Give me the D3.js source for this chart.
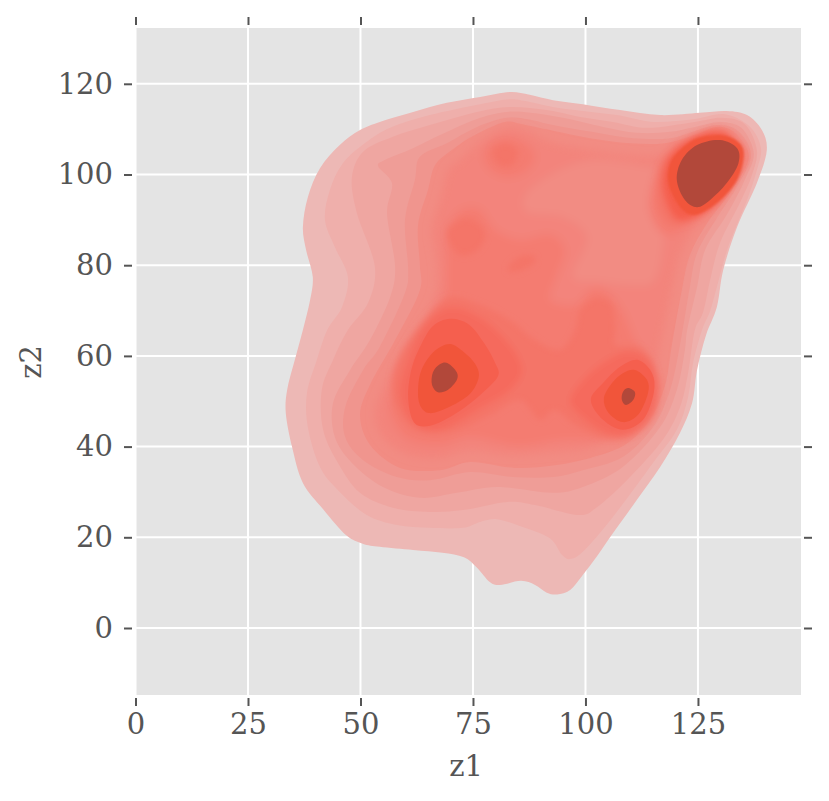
<!DOCTYPE html>
<html>
<head>
<meta charset="utf-8">
<style>
html,body{margin:0;padding:0;background:#fff}
svg{display:block}
text{font-family:"DejaVu Serif",serif;fill:#555}
</style>
<script src="https://cdn.jsdelivr.net/npm/d3@7"></script>
</head>
<body>
<svg id="chart" width="829" height="801"></svg>
<script>
const xTicks=[0,25,50,75,100,125];
const yTicks=[0,20,40,60,80,100,120];
const xLabel="z1", yLabel="z2";

// Density contours, [z1,z2]
const level0=[[83.2,118.2],[76.6,117.1],[69.2,115.8],[61.7,113.8],[54.3,111.6],[49.9,109.8],[45.4,106.5],[41.0,101.4],[38.3,95.0],[37.2,88.4],[37.9,83.4],[39.4,77.4],[38.8,72.3],[37.2,65.7],[35.4,59.1],[33.7,52.5],[33.4,47.4],[34.8,39.9],[37.2,32.0],[41.7,26.2],[46.9,20.4],[50.5,18.6],[54.3,17.9],[61.7,17.2],[68.2,16.6],[73.0,15.6],[75.9,13.3],[78.8,10.1],[81.0,9.5],[85.7,10.4],[88.8,9.5],[91.4,7.8],[93.7,7.4],[96.6,8.4],[99.4,11.7],[102.6,15.9],[106.1,20.9],[111.4,28.2],[116.6,35.5],[121.0,43.0],[123.7,49.6],[124.8,56.9],[126.8,64.6],[129.2,70.8],[130.6,78.9],[133.7,88.4],[138.1,98.1],[140.3,105.4],[139.2,109.8],[135.9,113.1],[131.4,114.0],[125.4,113.6],[116.6,113.1],[107.7,114.2],[99.4,115.5],[92.8,116.4],[87.6,117.6]];
const level1=[[83.2,116.6],[76.6,115.5],[65.4,113.1],[56.6,110.3],[51.4,107.2],[46.1,102.5],[43.2,96.6],[42.1,90.0],[44.3,84.0],[47.2,77.4],[45.9,70.8],[42.6,65.7],[40.3,59.1],[38.1,51.8],[38.3,44.3],[41.0,35.5],[45.0,30.4],[51.4,24.9],[58.1,22.7],[65.4,22.1],[72.8,22.1],[76.6,23.4],[80.3,24.0],[85.4,22.5],[92.1,19.8],[94.8,16.1],[96.6,15.2],[99.4,16.8],[106.1,24.5],[115.0,36.4],[120.3,43.7],[122.8,50.9],[123.9,58.4],[125.9,65.7],[127.7,69.9],[129.2,75.2],[131.7,84.0],[135.9,94.4],[138.1,101.0],[139.0,105.8],[136.6,110.5],[131.0,113.3],[123.9,112.2],[115.0,111.6],[107.0,113.1],[99.4,114.0],[92.8,114.9],[86.6,116.2]];
const level2=[[83.2,114.9],[75.9,113.8],[65.4,110.9],[57.2,108.3],[50.6,105.0],[48.1,99.4],[49.2,91.5],[53.2,79.6],[51.7,71.7],[47.2,65.7],[43.9,59.1],[41.4,52.5],[41.7,43.7],[45.0,36.4],[49.9,29.8],[57.2,26.5],[65.4,25.6],[72.8,26.0],[82.6,27.8],[88.8,27.1],[98.8,24.9],[102.6,26.7],[109.2,32.6],[117.2,41.5],[121.0,48.7],[122.8,56.2],[124.3,65.7],[126.1,69.5],[127.7,76.7],[129.9,84.9],[134.3,93.7],[137.0,99.9],[138.1,105.4],[135.4,111.1],[130.3,112.5],[124.3,111.6],[113.7,110.3],[106.1,111.6],[98.8,112.7],[91.4,114.2]];
const level3=[[82.6,113.8],[76.6,112.5],[67.7,108.7],[61.7,105.8],[55.4,103.2],[53.9,101.9],[57.0,98.1],[55.9,91.5],[57.7,79.6],[56.6,73.0],[52.1,63.5],[47.7,56.9],[43.9,49.6],[44.3,42.1],[48.1,36.4],[55.0,31.1],[63.2,28.7],[71.4,29.8],[80.3,31.1],[92.8,29.8],[99.4,31.1],[108.3,35.5],[116.6,44.3],[120.3,52.5],[122.1,61.3],[122.6,65.7],[124.8,75.2],[126.6,83.4],[131.4,91.1],[135.4,98.8],[137.4,104.7],[134.6,110.3],[129.9,111.6],[124.3,110.5],[118.8,109.4],[111.4,109.2],[103.9,110.5],[95.0,112.5],[87.7,113.6]];
const level4=[[82.6,112.5],[75.9,110.5],[69.2,106.9],[63.2,103.9],[62.1,98.8],[59.9,90.0],[60.6,78.9],[59.9,73.9],[54.3,62.0],[50.6,56.9],[46.6,48.7],[46.6,42.1],[50.6,37.0],[58.1,33.3],[65.4,32.6],[74.4,34.4],[83.9,33.3],[92.8,33.3],[99.4,34.8],[108.3,37.7],[115.0,44.3],[118.8,52.5],[121.0,62.4],[123.2,75.2],[124.8,82.7],[129.2,90.4],[133.9,97.7],[136.8,104.3],[133.9,109.6],[129.4,110.9],[124.3,109.6],[118.8,108.0],[110.6,108.0],[102.6,109.2],[92.8,110.9],[87.2,112.2]];
const level5=[[82.1,111.6],[75.4,108.7],[70.3,105.4],[66.6,102.1],[65.0,96.6],[62.8,88.9],[63.2,80.0],[63.2,74.5],[57.7,63.5],[52.1,53.6],[49.9,47.0],[52.1,40.4],[58.8,35.3],[67.7,34.8],[74.4,36.6],[84.3,35.3],[93.2,35.9],[101.0,37.5],[108.8,40.4],[114.3,45.9],[117.7,53.6],[119.2,62.4],[121.4,74.5],[123.2,82.2],[127.2,89.5],[132.6,96.6],[136.3,103.9],[133.2,109.2],[129.2,110.5],[124.3,108.7],[117.7,106.9],[109.9,106.9],[101.0,108.0],[92.1,109.8],[85.9,111.1]];
const level6=[[82.1,110.3],[76.6,107.2],[72.1,103.2],[69.5,101.0],[67.7,94.4],[65.9,87.8],[67.0,80.0],[66.6,73.4],[61.4,63.5],[55.4,53.6],[53.2,47.0],[55.4,41.5],[61.0,38.1],[67.7,37.5],[74.4,39.2],[83.2,38.1],[93.2,38.8],[101.0,39.7],[107.7,43.0],[112.1,47.0],[115.4,54.7],[116.6,62.4],[119.2,74.5],[121.0,82.2],[124.3,88.2],[128.8,93.3],[135.7,103.6],[132.8,108.7],[129.0,110.0],[124.3,108.0],[116.6,104.3],[109.9,104.3],[101.0,105.4],[92.1,107.2],[86.6,109.8]];
const lightCentre=[[87.0,91.7],[95.0,90.6],[100.3,86.2],[97.2,77.4],[103.2,76.3],[109.9,75.6],[115.4,76.7],[117.7,87.8],[118.8,99.9],[112.1,102.1],[101.0,103.2],[92.1,99.9],[86.6,95.5]];
const topIslandOuter=[[82.6,108.3],[87.3,106.5],[88.8,103.6],[86.6,100.6],[82.6,99.4],[78.8,101.0],[77.3,104.1],[78.8,106.9]];
const level7=[[72.6,92.2],[76.6,92.2],[79.9,87.8],[85.4,85.6],[92.1,86.7],[95.4,83.4],[93.2,76.7],[92.1,72.3],[97.7,71.2],[101.0,74.5],[104.3,74.5],[108.1,70.1],[111.0,63.5],[114.3,59.1],[116.6,53.6],[114.3,45.9],[108.8,41.5],[101.0,41.5],[94.3,41.5],[87.7,40.4],[83.2,40.4],[74.4,42.1],[67.7,40.4],[61.0,41.5],[57.7,44.8],[56.6,50.3],[61.0,59.1],[65.4,67.9],[68.8,73.4],[69.2,80.0],[69.2,87.8]];
const topIslandInner=[[82.1,106.9],[84.6,105.8],[85.0,104.1],[83.7,102.1],[81.7,101.7],[79.9,103.2],[79.4,105.4]];
const peakC7=[[115.4,99.9],[114.3,92.2],[117.7,86.7],[123.2,88.9],[129.4,94.4],[135.0,103.2],[132.3,108.3],[128.8,109.8],[123.2,108.0],[118.3,105.4]];
const level8=[[58.8,60.2],[64.3,67.9],[69.9,72.8],[76.6,71.2],[83.2,67.9],[88.8,63.5],[94.3,61.3],[97.7,65.7],[98.8,70.1],[102.6,72.8],[105.9,71.2],[106.6,65.7],[106.6,62.4],[112.1,61.7],[115.4,56.9],[115.4,48.1],[111.0,43.2],[104.3,42.1],[97.7,44.8],[93.2,48.1],[89.9,45.9],[85.4,50.3],[78.8,47.0],[69.9,43.2],[62.1,43.7],[58.3,48.1],[57.0,53.6]];
const midIslandOuter=[[73.3,90.4],[76.6,88.9],[77.7,86.0],[75.5,82.9],[72.2,82.2],[70.1,84.5],[69.5,87.8]];
const smallIsland=[[82.7,79.4],[84.9,81.6],[88.3,82.2],[88.8,80.7],[85.9,78.9],[83.2,78.5]];
const peakC8=[[116.6,101.0],[116.1,93.3],[119.2,88.9],[123.7,90.0],[130.3,95.0],[134.6,103.9],[131.9,108.5],[128.6,109.6],[123.2,107.6],[118.8,104.3]];
const peakA9=[[69.9,70.6],[76.6,68.4],[83.2,62.4],[85.9,56.9],[83.2,52.5],[76.6,48.5],[67.7,43.7],[62.1,44.8],[58.8,51.4],[60.6,59.1],[64.3,66.8]];
const peakB9=[[109.4,60.9],[113.9,59.1],[115.9,53.6],[114.3,47.0],[109.4,42.6],[104.3,43.2],[98.8,47.0],[96.6,50.3],[99.9,55.1],[104.3,58.7]];
const blob9=[[103.2,72.3],[105.9,70.1],[105.4,65.7],[103.2,60.9],[99.9,61.3],[98.3,64.6],[99.9,69.7]];
const peakC9=[[117.7,102.1],[117.2,96.6],[119.9,90.4],[123.9,90.4],[129.9,94.4],[134.1,102.1],[132.1,108.3],[129.0,109.4],[124.3,108.3],[119.9,105.4]];
const peakA10=[[69.9,68.2],[74.0,67.0],[77.5,62.8],[79.9,58.5],[80.6,55.6],[76.6,51.4],[71.0,47.2],[65.5,44.6],[62.0,45.2],[60.6,50.5],[61.2,56.5],[63.0,61.5],[66.0,66.5]];
const peakB10=[[111.7,59.1],[114.8,56.2],[115.2,52.0],[112.8,45.9],[108.3,43.7],[103.9,45.9],[101.2,50.3],[103.9,54.0],[107.7,57.6]];
const peakA11=[[69.9,62.6],[73.0,60.8],[75.5,58.2],[76.3,55.4],[74.3,51.6],[69.2,48.5],[65.2,47.4],[63.2,49.2],[62.8,52.8],[63.6,57.0],[66.4,61.0]];
const peakB11=[[111.0,56.9],[113.7,54.7],[113.9,51.8],[111.7,47.0],[108.3,45.4],[105.0,47.6],[104.1,50.7],[105.9,54.0],[108.3,56.2]];
const peakC11=[[129.9,108.7],[133.7,107.4],[135.2,104.7],[133.7,98.8],[129.2,93.7],[124.3,91.1],[121.0,92.8],[118.4,98.1],[118.8,102.5],[121.0,105.4],[124.8,108.0]];
const peakA12=[[69.4,58.4],[71.4,56.4],[71.4,54.7],[69.4,52.5],[67.2,52.0],[65.9,53.6],[66.1,56.4],[67.7,58.2]];
const peakB12=[[109.4,52.9],[111.0,52.0],[110.6,50.3],[109.0,49.2],[108.1,50.3],[108.3,52.0]];
const peakC12=[[129.9,107.6],[133.7,105.8],[134.0,102.5],[131.4,98.1],[127.7,94.4],[124.8,92.8],[122.1,94.4],[120.3,98.8],[121.4,103.2],[124.8,106.5]];

const W=829,H=801;
const x=d3.scaleLinear().domain([0,147.9]).range([135.5,801]);
const y=d3.scaleLinear().domain([0,120]).range([628,83.8]);
const plot={l:135,r:801,t:28,b:695};

const colour=["#EDB8B5","#EFAFAB","#EFA6A1","#EF9D97","#F0958E","#F28C83","#F3847B","#F47C71","#F47468","#F56B5D","#F55F4E","#F1553A","#B2483A"];

const svg=d3.select("#chart");
const defs=svg.append("defs");
[["soft6",4.5],["soft8",3.2],["soft10",1.0]].forEach(([id,sd])=>{
  defs.append("filter").attr("id",id).attr("filterUnits","userSpaceOnUse").attr("x",0).attr("y",0).attr("width",W).attr("height",H)
    .append("feGaussianBlur").attr("stdDeviation",sd);
});

svg.append("rect").attr("x",plot.l).attr("y",plot.t).attr("width",plot.r-plot.l).attr("height",plot.b-plot.t).attr("fill","#E4E4E4");

const grid=svg.append("g").attr("stroke","#fff").attr("stroke-width",2);
grid.selectAll(".gx").data(xTicks).join("line").attr("x1",d=>x(d)).attr("x2",d=>x(d)).attr("y1",plot.t).attr("y2",plot.b);
grid.selectAll(".gy").data(yTicks).join("line").attr("y1",d=>y(d)).attr("y2",d=>y(d)).attr("x1",plot.l).attr("x2",plot.r);

const ringPath=d3.line().x(d=>x(d[0])).y(d=>y(d[1])).curve(d3.curveCatmullRomClosed.alpha(0.15));
function draw(g,rings){
  g.selectAll("path").data(rings).join("path").attr("d",d=>ringPath(d[0])).attr("fill",d=>colour[d[1]]);
}
draw(svg.append("g"),[[level0,0],[level1,1],[level2,2],[level3,3],[level4,4],[level5,5]]);
draw(svg.append("g").attr("filter","url(#soft6)"),[
  [level6,6],[lightCentre,5],[topIslandOuter,7],[level7,7],[peakC7,7]
]);
draw(svg.append("g").attr("filter","url(#soft8)"),[
  [topIslandInner,8],[level8,8],[midIslandOuter,8],[smallIsland,8],[peakC8,8],
  [peakA9,9],[peakB9,9],[blob9,8],[peakC9,10]
]);
draw(svg.append("g").attr("filter","url(#soft10)"),[[peakC11,11]]);
draw(svg.append("g"),[[peakA10,10],[peakB10,10],[peakA11,11],[peakB11,11],[peakA12,12],[peakB12,12],[peakC12,12]]);

function styleAxis(g){
  g.select(".domain").remove();
  g.selectAll(".tick line").attr("stroke","#555").attr("stroke-width",2);
  g.selectAll(".tick text").attr("fill","#555").style("font-size","29px");
}
svg.append("g").attr("transform",`translate(0,${plot.b+3})`)
  .call(d3.axisBottom(x).tickValues(xTicks).tickSize(8).tickPadding(7)).call(styleAxis);
svg.append("g").attr("transform",`translate(0,${plot.t-3})`)
  .call(d3.axisTop(x).tickValues(xTicks).tickSize(8).tickFormat("")).call(styleAxis);
svg.append("g").attr("transform",`translate(${plot.l-3},0)`)
  .call(d3.axisLeft(y).tickValues(yTicks).tickSize(8).tickPadding(11)).call(styleAxis);
svg.append("g").attr("transform",`translate(${plot.r+3},0)`)
  .call(d3.axisRight(y).tickValues(yTicks).tickSize(8).tickFormat("")).call(styleAxis);

svg.append("text").attr("x",466).attr("y",776).attr("text-anchor","middle").style("font-size","29px").text(xLabel);
svg.append("text").attr("transform","translate(41,362) rotate(-90)").attr("text-anchor","middle").style("font-size","29px").text(yLabel);
</script>
</body>
</html>
